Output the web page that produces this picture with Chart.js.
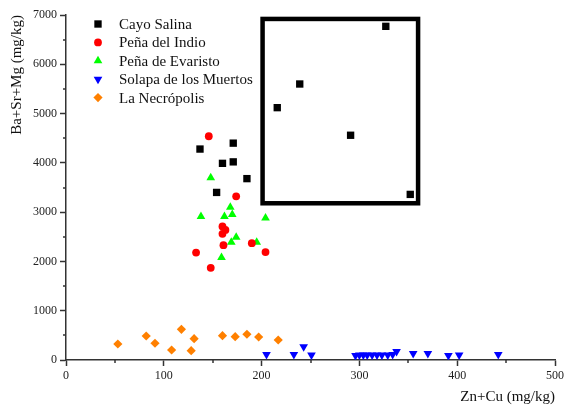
<!DOCTYPE html>
<html>
<head>
<meta charset="utf-8">
<script src="https://cdn.jsdelivr.net/npm/chart.js@4.4.1/dist/chart.umd.min.js"></script>
<style>
    body { margin: 0; background: #fff; }
</style>
</head>
<body>
<canvas id="scatterChart" width="564" height="406"></canvas>
<script>
const seriesNames = ['Cayo Salina', 'Peña del Indio', 'Peña de Evaristo', 'Solapa de los Muertos', 'La Necrópolis'];

const cayoSalinaX = [137, 171, 160, 171, 185, 154, 216, 239, 327, 291, 352];
const cayoSalinaY = [4280, 4400, 3990, 4020, 3680, 3400, 5120, 5600, 6770, 4560, 3360];

const penaIndioX = [146, 174, 160, 163, 160, 161, 133, 148, 190, 204];
const penaIndioY = [4540, 3320, 2710, 2640, 2560, 2330, 2180, 1870, 2370, 2190];

const penaEvaristoX = [148, 168, 138, 162, 170, 204, 174, 169, 195, 159];
const penaEvaristoY = [3700, 3100, 2910, 2910, 2950, 2880, 2490, 2390, 2390, 2080];

const solapaX = [205, 233, 243, 251, 296, 300, 304, 308, 313, 318, 323, 329, 334, 338, 355, 370, 391, 402, 442];
const solapaY = [110, 110, 270, 100, 90, 100, 100, 100, 100, 100, 100, 100, 110, 170, 130, 130, 90, 100, 110];

const necropolisX = [53, 82, 91, 108, 118, 128, 131, 160, 173, 185, 197, 217];
const necropolisY = [325, 487, 340, 203, 623, 190, 433, 493, 473, 522, 467, 406];

const xTicks = [0, 100, 200, 300, 400, 500];
const yTicks = [0, 1000, 2000, 3000, 4000, 5000, 6000, 7000];

// highlighted region (data units)
const boxX = [201, 360];
const boxY = [3180, 6920];

const fontFamily = '"Liberation Serif", "Times New Roman", serif';
const axisColor = '#333';

function toPoints(xs, ys) {
    return xs.map((x, i) => ({ x: x, y: ys[i] }));
}

const minorTicks = {
    id: 'minorTicks',
    afterDraw(chart) {
        const ctx = chart.ctx;
        const xs = chart.scales.x;
        const ys = chart.scales.y;
        ctx.save();
        ctx.strokeStyle = axisColor;
        ctx.lineWidth = 1.5;
        ctx.beginPath();
        for (let i = 0; i < xTicks.length - 1; i++) {
            const px = Math.round(xs.getPixelForValue((xTicks[i] + xTicks[i + 1]) / 2));
            ctx.moveTo(px, ys.bottom);
            ctx.lineTo(px, ys.bottom + 3);
        }
        for (let i = 0; i < yTicks.length - 1; i++) {
            const py = Math.round(ys.getPixelForValue((yTicks[i] + yTicks[i + 1]) / 2));
            ctx.moveTo(xs.left, py);
            ctx.lineTo(xs.left - 3, py);
        }
        ctx.stroke();
        ctx.restore();
    }
};

const highlightBox = {
    id: 'highlightBox',
    afterDatasetsDraw(chart) {
        const ctx = chart.ctx;
        const xs = chart.scales.x;
        const ys = chart.scales.y;
        const x0 = xs.getPixelForValue(boxX[0]);
        const x1 = xs.getPixelForValue(boxX[1]);
        const y0 = ys.getPixelForValue(boxY[1]);
        const y1 = ys.getPixelForValue(boxY[0]);
        ctx.save();
        ctx.strokeStyle = '#000';
        ctx.lineWidth = 4.5;
        ctx.strokeRect(x0, y0, x1 - x0, y1 - y0);
        ctx.restore();
    }
};

const insetLegend = {
    id: 'insetLegend',
    afterDraw(chart) {
        const ctx = chart.ctx;
        const area = chart.chartArea;
        ctx.save();
        ctx.font = '15px ' + fontFamily;
        ctx.textBaseline = 'middle';
        chart.data.datasets.forEach((ds, i) => {
            const y = area.top + 9 + i * 18.4;
            const x = area.left + 32;
            ctx.fillStyle = ds.backgroundColor;
            Chart.helpers.drawPoint(ctx, {
                pointStyle: ds.pointStyle,
                radius: ds.pointRadius,
                rotation: ds.rotation || 0,
                borderWidth: 0
            }, x, y);
            ctx.fillStyle = '#111';
            ctx.fillText(ds.label, area.left + 53, y + 1);
        });
        ctx.restore();
    }
};

new Chart(document.getElementById('scatterChart'), {
    type: 'scatter',
    data: {
        datasets: [
            {
                label: seriesNames[0],
                data: toPoints(cayoSalinaX, cayoSalinaY),
                backgroundColor: '#000000',
                pointStyle: 'rect',
                pointRadius: 5.2
            },
            {
                label: seriesNames[1],
                data: toPoints(penaIndioX, penaIndioY),
                backgroundColor: '#ff0000',
                pointStyle: 'circle',
                pointRadius: 3.9
            },
            {
                label: seriesNames[2],
                data: toPoints(penaEvaristoX, penaEvaristoY),
                backgroundColor: '#00ff00',
                pointStyle: 'triangle',
                pointRadius: 5
            },
            {
                label: seriesNames[3],
                data: toPoints(solapaX, solapaY),
                backgroundColor: '#0000ff',
                pointStyle: 'triangle',
                rotation: 180,
                pointRadius: 5
            },
            {
                label: seriesNames[4],
                data: toPoints(necropolisX, necropolisY),
                backgroundColor: '#ff8000',
                pointStyle: 'rectRot',
                pointRadius: 4.6
            }
        ]
    },
    options: {
        responsive: false,
        animation: false,
        devicePixelRatio: 1,
        layout: { padding: { top: 15, right: 9, left: 0, bottom: 0 } },
        elements: { point: { borderWidth: 0, hoverRadius: 5 } },
        plugins: {
            legend: { display: false },
            tooltip: { enabled: false }
        },
        scales: {
            x: {
                type: 'linear',
                min: 0,
                max: 500,
                afterBuildTicks: axis => { axis.ticks = xTicks.map(v => ({ value: v })); },
                afterFit: axis => { axis.height = 46; axis.paddingRight = 0; },
                ticks: { color: '#222', font: { family: fontFamily, size: 12 }, padding: 3, callback: v => String(v) },
                grid: { drawOnChartArea: false, tickLength: 6, tickWidth: 1.5, tickColor: axisColor },
                border: { color: axisColor, width: 1.5 },
                title: {
                    display: true,
                    text: 'Zn+Cu (mg/kg)',
                    align: 'end',
                    color: '#111',
                    font: { family: fontFamily, size: 15 },
                    padding: { top: 0, bottom: 0 }
                }
            },
            y: {
                type: 'linear',
                min: 0,
                max: 7000,
                afterBuildTicks: axis => { axis.ticks = yTicks.map(v => ({ value: v })); },
                afterFit: axis => { axis.width = 66; },
                ticks: { color: '#222', font: { family: fontFamily, size: 12 }, padding: 3, callback: v => String(v) },
                grid: { drawOnChartArea: false, tickLength: 6, tickWidth: 1.5, tickColor: axisColor },
                border: { color: axisColor, width: 1.5 },
                title: {
                    display: true,
                    text: 'Ba+Sr+Mg (mg/kg)',
                    align: 'end',
                    color: '#111',
                    font: { family: fontFamily, size: 15 },
                    padding: { top: 8, bottom: 0 }
                }
            }
        }
    },
    plugins: [minorTicks, highlightBox, insetLegend]
});
</script>
</body>
</html>
